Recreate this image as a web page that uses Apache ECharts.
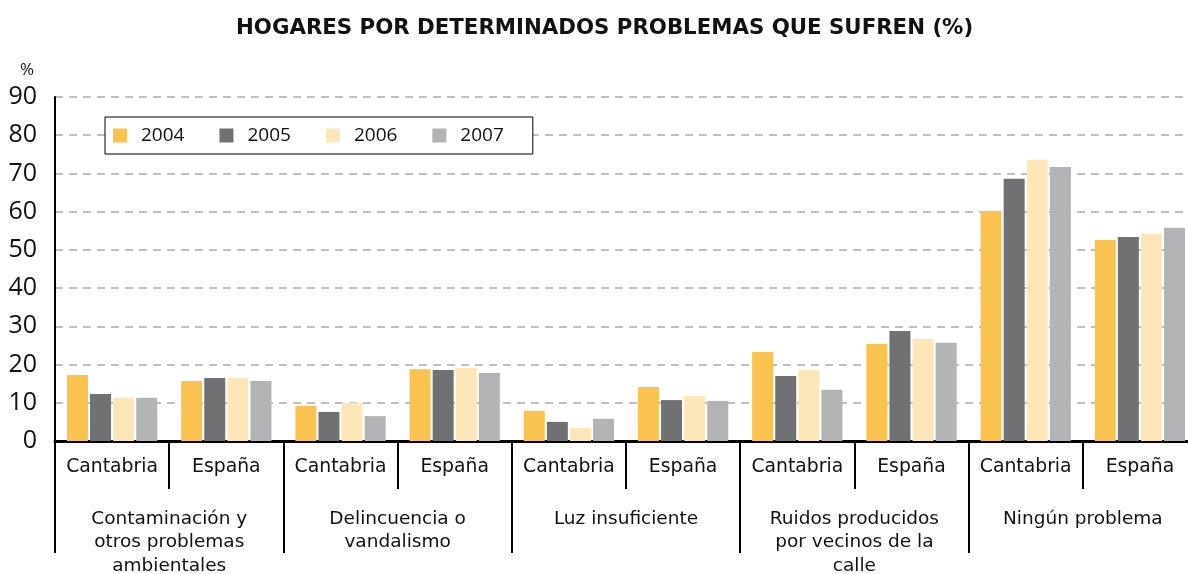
<!DOCTYPE html>
<html>
<head>
<meta charset="utf-8">
<title>Hogares por determinados problemas</title>
<script src="https://cdn.jsdelivr.net/npm/echarts@6.0.0/dist/echarts.min.js"></script>
<style>
  html, body { margin: 0; padding: 0; background: #fff; }
  #chart { width: 1188px; height: 574px; }
</style>
</head>
<body>
<div id="chart"></div>
<script>
// data
const regions = ["Cantabria", "España", "Cantabria", "España", "Cantabria", "España", "Cantabria", "España", "Cantabria", "España"];
const problems = [
  "Contaminación y\notros problemas\nambientales",
  "Delincuencia o\nvandalismo",
  "Luz insuficiente",
  "Ruidos producidos\npor vecinos de la\ncalle",
  "Ningún problema"
];
const years = ["2004", "2005", "2006", "2007"];
const y2004 = [17.3, 15.7, 9.2, 18.8, 7.9, 14.1, 23.3, 25.4, 60.2, 52.6];
const y2005 = [12.3, 16.5, 7.6, 18.6, 5.0, 10.7, 17.0, 28.8, 68.6, 53.4];
const y2006 = [11.3, 16.5, 10.0, 19.1, 3.4, 11.8, 18.6, 26.7, 73.6, 54.2];
const y2007 = [11.3, 15.7, 6.5, 17.8, 5.8, 10.5, 13.4, 25.7, 71.7, 55.8];
const yTicks = [0, 10, 20, 30, 40, 50, 60, 70, 80, 90];

const colors = ["#FAC24F", "#707172", "#FDE7B9", "#B2B3B4"];
const labelFont = "DejaVu Sans";
const numFont = "Open Sans";

const chart = echarts.init(document.getElementById("chart"));

const seriesData = [y2004, y2005, y2006, y2007];

const option = {
  animation: false,
  backgroundColor: "#fff",
  color: colors,
  title: [
    {
      text: "HOGARES POR DETERMINADOS PROBLEMAS QUE SUFREN (%)",
      left: 231,
      top: 13,
      textStyle: { fontFamily: labelFont, fontWeight: "bold", fontSize: 21.3, color: "#111" }
    },
    {
      text: "%",
      left: 15,
      top: 57,
      textStyle: { fontFamily: numFont, fontWeight: "normal", fontSize: 17, color: "#222" }
    }
  ],
  legend: {
    data: years,
    left: 105,
    top: 117,
    orient: "horizontal",
    backgroundColor: "#fff",
    borderColor: "#000",
    borderWidth: 1,
    borderRadius: 0,
    padding: [9, 29, 9, 8],
    itemWidth: 14,
    itemHeight: 14,
    itemGap: 35,
    icon: "rect",
    textStyle: { fontFamily: numFont, fontSize: 19, color: "#111", padding: [0, 0, 0, 9] }
  },
  grid: {
    left: 55,
    top: 97,
    width: 1142,
    height: 344,
    containLabel: false,
    // the last category runs past the right edge in the original, don't squeeze the grid
    outerBoundsMode: "none"
  },
  xAxis: [
    {
      type: "category",
      data: regions,
      position: "bottom",
      axisLine: { show: true, lineStyle: { color: "#000", width: 3 } },
      axisTick: { show: true, interval: 0, length: 48, lineStyle: { color: "#000", width: 2 } },
      axisLabel: {
        interval: 0,
        margin: 17,
        fontFamily: labelFont,
        fontSize: 18.8,
        color: "#111"
      },
      splitLine: { show: false }
    },
    {
      type: "category",
      data: problems,
      position: "bottom",
      offset: 48,
      axisLine: { show: false },
      axisTick: { show: true, interval: 0, length: 64, lineStyle: { color: "#000", width: 2 } },
      axisLabel: {
        interval: 0,
        margin: 18,
        fontFamily: labelFont,
        fontSize: 18.5,
        lineHeight: 23.5,
        color: "#111"
      },
      splitLine: { show: false }
    }
  ],
  yAxis: {
    type: "value",
    min: yTicks[0],
    max: yTicks[yTicks.length - 1],
    interval: 10,
    axisLine: { show: true, lineStyle: { color: "#000", width: 2 } },
    axisTick: { show: false },
    axisLabel: {
      margin: 18,
      fontFamily: numFont,
      fontSize: 25,
      color: "#111",
      padding: [10, 0, 0, 0]
    },
    splitLine: {
      show: true,
      lineStyle: { color: "#ABABAB", width: 1.5, type: [8, 6] }
    }
  },
  series: years.map((y, i) => ({
    name: y,
    type: "bar",
    xAxisIndex: 0,
    data: seriesData[i],
    barWidth: 21,
    barGap: "10%",
    itemStyle: { color: colors[i] }
  }))
};

chart.setOption(option);
</script>
</body>
</html>
